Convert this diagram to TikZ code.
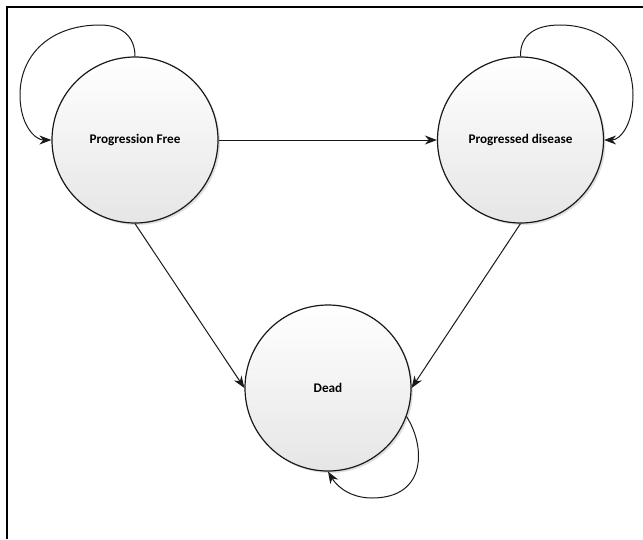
\documentclass[tikz,border=0pt]{standalone}
\usepackage{fontspec}
\setmainfont{Carlito}
\usetikzlibrary{arrows.meta,shadows}
\begin{document}
\begin{tikzpicture}[x=1pt,y=-1pt,
  state/.style={circle,draw=black!90,line width=1.2pt,minimum size=166pt,inner sep=0pt,
    top color=white,bottom color=black!10,
    drop shadow={opacity=0.25,shadow xshift=2pt,shadow yshift=-2pt},
    font=\fontsize{13.2}{15}\selectfont\bfseries},
  conn/.style={draw=black!90,line width=1pt,-{Stealth[length=12pt,width=9pt]}}]
\useasboundingbox (0,0) rectangle (643,539);
\draw[line width=2.5pt] (7,539) -- (7,7) -- (643,7);
\node[state] (PF) at (135,140) {Progression Free};
\node[state] (PD) at (520.5,140) {Progressed disease};
\node[state] (D) at (328,388) {Dead};
\draw[conn] (PF) -- (PD);
\draw[conn] (PF.south) -- (D.west);
\draw[conn] (PD.south) -- (D.east);
\draw[conn] (PF.north) .. controls (135,35) and (120,25) .. (100,25)
  .. controls (50,25) and (20,55) .. (20,95)
  .. controls (20,125) and (35,140) .. (PF.west);
\draw[conn] (PD.north) .. controls (520,35) and (535,25) .. (560,25)
  .. controls (605,25) and (633,55) .. (633,95)
  .. controls (633,125) and (620,140) .. (PD.east);
\draw[conn] (D.-20) .. controls (425,445) and (428,498) .. (372,498)
  .. controls (352,498) and (338,488) .. (D.south);
\end{tikzpicture}
\end{document}
